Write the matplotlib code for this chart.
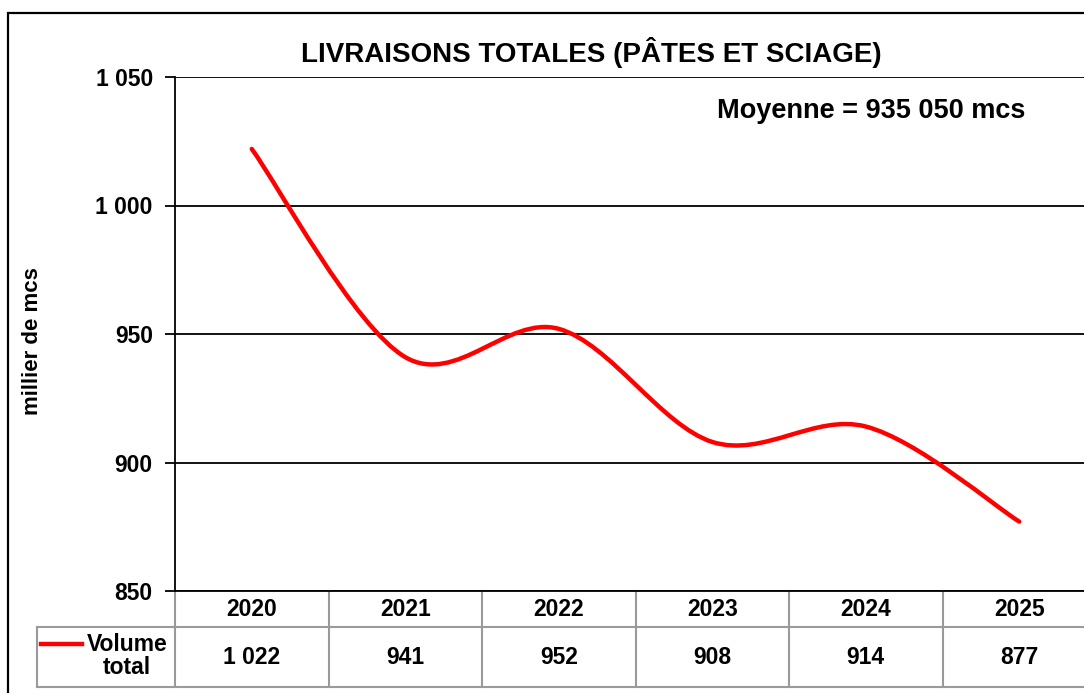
import matplotlib
matplotlib.use("Agg")
import matplotlib.pyplot as plt
import matplotlib.transforms as mtransforms
from matplotlib.path import Path
from matplotlib.patches import PathPatch, Rectangle
from matplotlib.lines import Line2D
import numpy as np

plt.rcParams['font.family'] = ['Liberation Sans', 'DejaVu Sans']
plt.rcParams['font.weight'] = 'bold'

years = ["2020", "2021", "2022", "2023", "2024", "2025"]
volume = [1022, 941, 952, 908, 914, 877]
value_labels = ["1 022", "941", "952", "908", "914", "877"]
yticks = [850, 900, 950, 1000, 1050]
ytick_labels = ["850", "900", "950", "1 000", "1 050"]
title = "LIVRAISONS TOTALES (PÂTES ET SCIAGE)"
note = "Moyenne = 935 050 mcs"
ylabel = "millier de mcs"
series_name = "Volume\ntotal"

W, H = 1084, 693
fig = plt.figure(figsize=(W / 100, H / 100), dpi=100)

def fx(px):
    return px / W

def fy(py):
    return 1 - py / H

left, right, top, bottom = 175, 1096, 77, 591
ax = fig.add_axes([fx(left), fy(bottom), fx(right - left), (bottom - top) / H])

# outer chart border
fig.patches.append(Rectangle((fx(8), -0.2), 1.2, fy(13) + 0.2, transform=fig.transFigure,
                             fill=False, edgecolor='black', lw=1.6, zorder=0))

x = np.arange(len(years))
ax.set_xlim(-0.5, len(years) - 0.5)
ax.set_ylim(850, 1050)

# smoothed line via cubic Bezier segments through the data points
pts = np.column_stack([x, np.array(volume, dtype=float)])
n = len(pts)
d = np.zeros_like(pts)
for i in range(n):
    a = pts[max(i - 1, 0)]
    b = pts[min(i + 1, n - 1)]
    d[i] = (b - a) / 6.0
verts = [tuple(pts[0])]
codes = [Path.MOVETO]
for i in range(n - 1):
    verts += [tuple(pts[i] + d[i]), tuple(pts[i + 1] - d[i + 1]), tuple(pts[i + 1])]
    codes += [Path.CURVE4] * 3
ax.add_patch(PathPatch(Path(verts, codes), fill=False, edgecolor='#FF0000', lw=3.2,
                       capstyle='round', joinstyle='round', zorder=3))

# grid and axes
ax.set_yticks(yticks)
ax.set_yticklabels(ytick_labels, fontsize=16.5, fontweight='bold')
ax.yaxis.grid(True, color='black', lw=1.3)
ax.set_axisbelow(True)
ax.tick_params(axis='y', length=7, width=1.3, pad=9, direction='out')
ax.set_xticks([])
for s in ['top', 'right']:
    ax.spines[s].set_visible(False)
ax.spines['left'].set_linewidth(1.3)
ax.spines['bottom'].set_linewidth(1.3)

fig.text(fx(33), fy(341), ylabel, rotation=90, ha='center', va='center',
         fontsize=16, fontweight='bold')

# data table under the plot
trans = mtransforms.blended_transform_factory(ax.transData, ax.transAxes)
h_ax = bottom - top
y_hdr = -(627 - bottom) / h_ax
y_val = -(687 - bottom) / h_ax
px_per_unit = (right - left) / len(years)
x_leg = -0.5 - (left - 37) / px_per_unit
gray = '#9a9a9a'
tl = dict(transform=trans, clip_on=False, color=gray, lw=1.5)
ax.add_line(Line2D([x_leg, len(years) - 0.5], [y_hdr, y_hdr], **tl))
ax.add_line(Line2D([x_leg, len(years) - 0.5], [y_val, y_val], **tl))
ax.add_line(Line2D([x_leg, x_leg], [y_hdr, y_val], **tl))
for i in range(len(years) + 1):
    xb = i - 0.5
    ax.add_line(Line2D([xb, xb], [0, y_val], **tl))
for i, (yr, lab) in enumerate(zip(years, value_labels)):
    ax.text(i, -(609 - bottom) / h_ax, yr, transform=trans, ha='center', va='center',
            fontsize=16.5, fontweight='bold', clip_on=False)
    ax.text(i, -(657 - bottom) / h_ax, lab, transform=trans, ha='center', va='center',
            fontsize=16.5, fontweight='bold', clip_on=False)
# legend key in table
y_key = -(644 - bottom) / h_ax
x_k0 = -0.5 - (left - 41) / px_per_unit
x_k1 = -0.5 - (left - 82) / px_per_unit
ax.add_line(Line2D([x_k0, x_k1], [y_key, y_key], transform=trans, clip_on=False,
                   color='#FF0000', lw=3.2))
x_txt = -0.5 - (left - 127) / px_per_unit
ax.text(x_txt, -(656 - bottom) / h_ax, series_name, transform=trans, ha='center', va='center',
        multialignment='center', fontsize=16.5, fontweight='bold', clip_on=False, linespacing=0.95)

fig.text(fx(591), fy(52), title, ha='center', va='center', fontsize=20, fontweight='bold')
fig.text(fx(717), fy(111), note, ha='left', va='center', fontsize=19.5, fontweight='bold')

fig.savefig("out.png", dpi=100)
